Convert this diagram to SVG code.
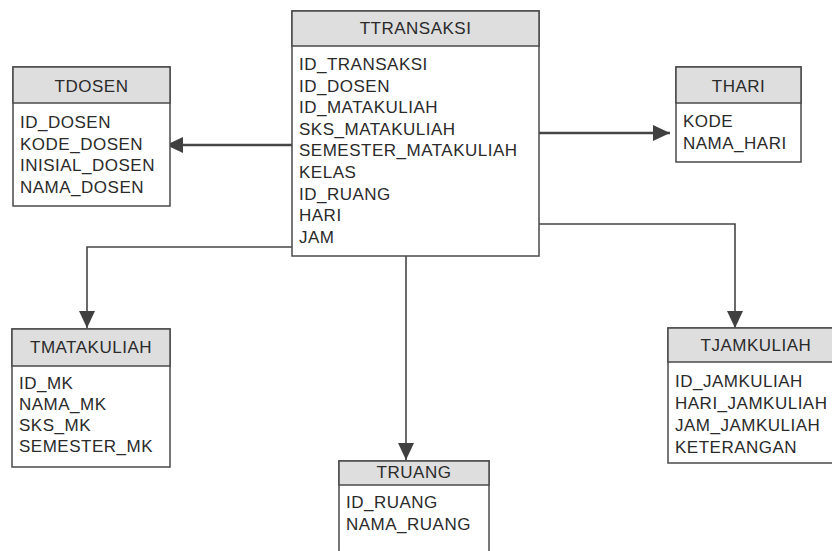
<svg xmlns="http://www.w3.org/2000/svg" width="832" height="551" viewBox="0 0 832 551">
<style>
.box{fill:#fff;stroke:#4a4a4a;stroke-width:1.5}
.hdr{fill:#dedede;stroke:#4a4a4a;stroke-width:1.5}
.t{font-family:"Liberation Sans",Arial,sans-serif;font-size:17px;letter-spacing:0.5px;fill:#2a2a2a}
.h{text-anchor:middle}
.c{fill:none;stroke:#454545;stroke-width:1.6}
.c2{fill:none;stroke:#454545;stroke-width:2.4}
</style>
<defs>
<marker id="ah" markerUnits="userSpaceOnUse" markerWidth="18" markerHeight="16" refX="17" refY="8" orient="auto">
<path d="M0,0 L17,8 L0,16 Z" fill="#404040"/>
</marker>
</defs>
<rect width="832" height="551" fill="#fff"/>
<g id="connectors">
<path class="c2" d="M292,145 H166" marker-end="url(#ah)"/>
<path class="c2" d="M539,133 H670" marker-end="url(#ah)"/>
<path class="c" d="M292,247 H87 V328" marker-end="url(#ah)"/>
<path class="c" d="M406,256 V460" marker-end="url(#ah)"/>
<path class="c" d="M539,224 H735 V328" marker-end="url(#ah)"/>
</g>
<g id="TTRANSAKSI">
<rect class="box" x="292" y="11" width="247" height="245"/>
<rect class="hdr" x="292" y="11" width="247" height="35"/>
<text class="t h" x="415.5" y="34">TTRANSAKSI</text>
<text class="t" x="299" y="70">ID_TRANSAKSI</text>
<text class="t" x="299" y="91.6">ID_DOSEN</text>
<text class="t" x="299" y="113.2">ID_MATAKULIAH</text>
<text class="t" x="299" y="134.8">SKS_MATAKULIAH</text>
<text class="t" x="299" y="156.4">SEMESTER_MATAKULIAH</text>
<text class="t" x="299" y="178">KELAS</text>
<text class="t" x="299" y="199.6">ID_RUANG</text>
<text class="t" x="299" y="221.2">HARI</text>
<text class="t" x="299" y="242.8">JAM</text>
</g>
<g id="TDOSEN">
<rect class="box" x="13" y="67" width="157" height="139"/>
<rect class="hdr" x="13" y="67" width="157" height="36"/>
<text class="t h" x="91.5" y="92">TDOSEN</text>
<text class="t" x="20" y="128">ID_DOSEN</text>
<text class="t" x="20" y="149.6">KODE_DOSEN</text>
<text class="t" x="20" y="171.2">INISIAL_DOSEN</text>
<text class="t" x="20" y="192.8">NAMA_DOSEN</text>
</g>
<g id="THARI">
<rect class="box" x="676" y="67" width="125" height="95"/>
<rect class="hdr" x="676" y="67" width="125" height="36"/>
<text class="t h" x="738.5" y="92">THARI</text>
<text class="t" x="683" y="127">KODE</text>
<text class="t" x="683" y="149">NAMA_HARI</text>
</g>
<g id="TMATAKULIAH">
<rect class="box" x="12" y="329" width="158" height="138"/>
<rect class="hdr" x="12" y="329" width="158" height="37"/>
<text class="t h" x="91" y="353">TMATAKULIAH</text>
<text class="t" x="19" y="389">ID_MK</text>
<text class="t" x="19" y="410">NAMA_MK</text>
<text class="t" x="19" y="431">SKS_MK</text>
<text class="t" x="19" y="452">SEMESTER_MK</text>
</g>
<g id="TRUANG">
<rect class="box" x="339" y="461" width="150" height="100"/>
<rect class="hdr" x="339" y="461" width="150" height="24"/>
<text class="t h" x="414" y="478">TRUANG</text>
<text class="t" x="346" y="508">ID_RUANG</text>
<text class="t" x="346" y="530">NAMA_RUANG</text>
</g>
<g id="TJAMKULIAH">
<rect class="box" x="668" y="328" width="176" height="135"/>
<rect class="hdr" x="668" y="328" width="176" height="34"/>
<text class="t h" x="756" y="351">TJAMKULIAH</text>
<text class="t" x="675" y="387">ID_JAMKULIAH</text>
<text class="t" x="675" y="409">HARI_JAMKULIAH</text>
<text class="t" x="675" y="431">JAM_JAMKULIAH</text>
<text class="t" x="675" y="453">KETERANGAN</text>
</g>
</svg>
